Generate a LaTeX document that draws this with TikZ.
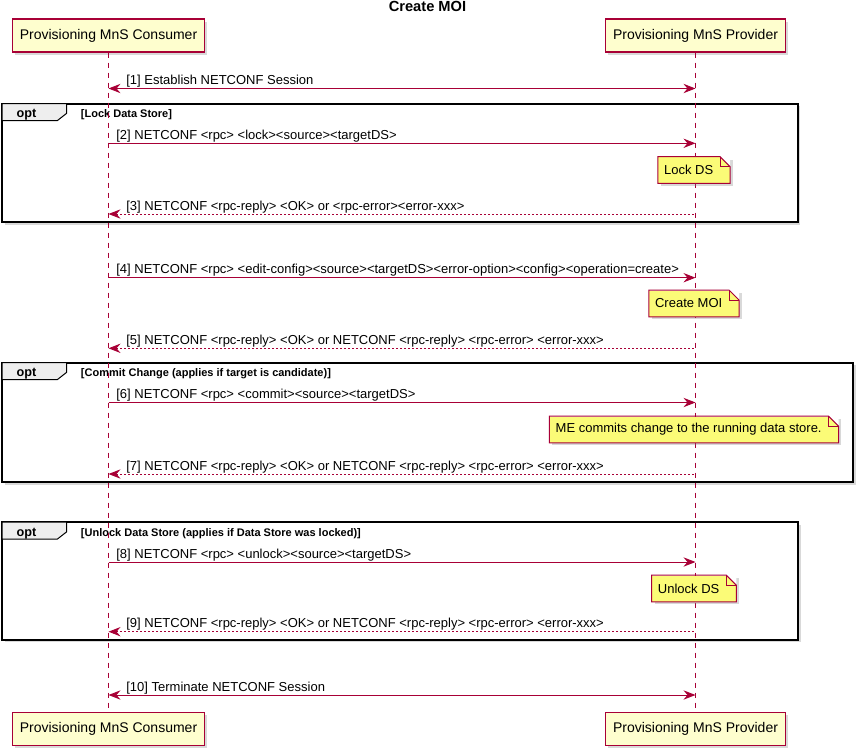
\documentclass[tikz,border=0pt]{standalone}
\usepackage{fontspec}
\setmainfont{Liberation Sans}
\usepackage{tikz}
\usetikzlibrary{arrows.meta,shadows}
\definecolor{umlred}{HTML}{A80036}
\definecolor{partfill}{HTML}{FEFECE}
\definecolor{notefill}{HTML}{FBFB77}
\definecolor{tabfill}{HTML}{EEEEEE}
% folded corner of a note node
\newcommand{\foldcorner}[1]{%
  \fill[white] (#1.north east) -- ([xshift=-7.5pt]#1.north east) -- ([yshift=-7.5pt]#1.north east) -- cycle;
  \draw[noteline] (#1.south west) -- (#1.north west) -- ([xshift=-7.5pt]#1.north east) -- ([yshift=-7.5pt]#1.north east) -- (#1.south east) -- cycle;
  \draw[noteline] ([xshift=-7.5pt]#1.north east) |- ([yshift=-7.5pt]#1.north east);}

\begin{document}
\begin{tikzpicture}[x=0.75pt,y=-0.75pt,>={Stealth[length=9pt,width=7pt,inset=3pt]}]
			\tikzstyle{shade}=[drop shadow={shadow xshift=2pt,shadow yshift=-2pt,opacity=0.3}]
			\tikzstyle{actor}=[draw=umlred,line width=1.1pt,fill=partfill,shade,minimum height=24.75pt,inner xsep=5.6pt,font=\fontsize{10.5}{12}\selectfont]
			\tikzstyle{lifeline}=[draw=umlred,line width=0.75pt,dash pattern=on 3.75pt off 3.75pt]
			\tikzstyle{msg}=[draw=umlred,line width=0.75pt]
			\tikzstyle{reply}=[msg,dash pattern=on 1.5pt off 1.5pt]
			\tikzstyle{lbl}=[anchor=base west,yshift=3pt,inner sep=0pt,font=\fontsize{9.75}{11}\selectfont]
			\tikzstyle{note}=[fill=notefill,shade,minimum height=19.5pt,inner xsep=4.5pt,font=\fontsize{9.75}{11}\selectfont,execute at end node={\hspace{8pt}}]
			\tikzstyle{noteline}=[draw=umlred,line width=0.75pt]
			\tikzstyle{optbox}=[draw=black,line width=1.5pt,fill=white,shade]
			\tikzstyle{opttab}=[draw=black,line width=0.75pt,fill=tabfill]
			\tikzstyle{optname}=[anchor=base,inner sep=0pt,font=\bfseries\fontsize{9.5}{11}\selectfont]
			\tikzstyle{guard}=[anchor=base west,inner sep=0pt,font=\bfseries\fontsize{8.25}{10}\selectfont]
			
			\useasboundingbox (0,0) rectangle (860,750);
			
			\node[anchor=base,inner sep=0pt,font=\bfseries\fontsize{11}{13}\selectfont] (title) at (427.5,11.5) {Create MOI};
			
			% opt fragments
			\foreach \i/\top/\bot/\rt/\guardtext in {1/103.5/222/797.5/{[Lock Data Store]},
				2/362.5/482/853/{[Commit Change (applies if target is candidate)]},
				3/522/639.7/798/{[Unlock Data Store (applies if Data Store was locked)]}}{
				\draw[optbox] (2,\top) rectangle (\rt,\bot);
				\draw[opttab] (2,\top) -- ++(64.7,0) -- ++(0,9.8) -- ++(-9.5,7.4) -- ++(-55.2,0) -- cycle;
				\node[optname] (opt\i) at (26.5,\top+14.2) {opt};
				\node[guard] (guard\i) at (80.7,\top+14.2) {\guardtext};
			}
			
			% participants
			\node[actor] (ctop) at (108.5,35.5) {Provisioning MnS Consumer};
			\node[actor] (ptop) at (695.5,35.5) {Provisioning MnS Provider};
			\node[actor] (cbot) at (108.5,729) {Provisioning MnS Consumer};
			\node[actor] (pbot) at (695.5,729) {Provisioning MnS Provider};
			\draw[lifeline] (ctop.south) -- (cbot.north);
			\draw[lifeline] (ptop.south) -- (pbot.north);
			
			% messages
			\draw[msg,<->] (ctop |- 0,88.5) -- node[lbl,pos=0,xshift=13pt] {[1] Establish NETCONF Session} (ptop |- 0,88.5);
			\draw[msg,->] (ctop |- 0,143.3) -- node[lbl,pos=0,xshift=5.5pt] {[2] NETCONF <rpc> <lock><source><targetDS>} (ptop |- 0,143.3);
			\node[note] (n1) at (694,170) {Lock DS};
			\foldcorner{n1}
			\draw[reply,<-] (ctop |- 0,214) -- node[lbl,pos=0,xshift=13pt] {[3] NETCONF <rpc-reply> <OK> or <rpc-error><error-xxx>} (ptop |- 0,214);
			
			\draw[msg,->] (ctop |- 0,277.7) -- node[lbl,pos=0,xshift=5.5pt] {[4] NETCONF <rpc> <edit-config><source><targetDS><error-option><config><operation=create>} (ptop |- 0,277.7);
			\node[note] (n2) at (694,303.5) {Create MOI};
			\foldcorner{n2}
			\draw[reply,<-] (ctop |- 0,348.3) -- node[lbl,pos=0,xshift=13pt] {[5] NETCONF <rpc-reply> <OK> or NETCONF <rpc-reply> <rpc-error> <error-xxx>} (ptop |- 0,348.3);
			
			\draw[msg,->] (ctop |- 0,402.5) -- node[lbl,pos=0,xshift=5.5pt] {[6] NETCONF <rpc> <commit><source><targetDS>} (ptop |- 0,402.5);
			\node[note] (n3) at (694,429.5) {ME commits change to the running data store.};
			\foldcorner{n3}
			\draw[reply,<-] (ctop |- 0,474) -- node[lbl,pos=0,xshift=13pt] {[7] NETCONF <rpc-reply> <OK> or NETCONF <rpc-reply> <rpc-error> <error-xxx>} (ptop |- 0,474);
			
			\draw[msg,->] (ctop |- 0,562) -- node[lbl,pos=0,xshift=5.5pt] {[8] NETCONF <rpc> <unlock><source><targetDS>} (ptop |- 0,562);
			\node[note] (n4) at (694,588.5) {Unlock DS};
			\foldcorner{n4}
			\draw[reply,<-] (ctop |- 0,631.7) -- node[lbl,pos=0,xshift=13pt] {[9] NETCONF <rpc-reply> <OK> or NETCONF <rpc-reply> <rpc-error> <error-xxx>} (ptop |- 0,631.7);
			
			\draw[msg,<->] (ctop |- 0,695) -- node[lbl,pos=0,xshift=13pt] {[10] Terminate NETCONF Session} (ptop |- 0,695);
		\end{tikzpicture}
\end{document}
